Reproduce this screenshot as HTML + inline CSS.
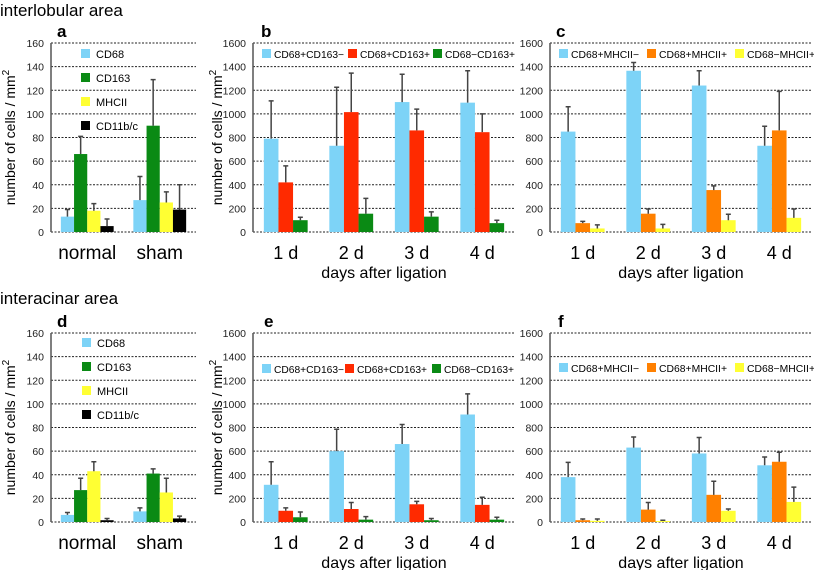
<!DOCTYPE html>
<html><head><meta charset="utf-8"><style>
body{margin:0;background:#fff;width:814px;height:570px;overflow:hidden}
svg{display:block;font-family:"Liberation Sans",Arial,sans-serif}
</style></head><body>
<svg id="chart" width="814" height="570" viewBox="0 0 814 570" xmlns="http://www.w3.org/2000/svg">
<text x="0" y="16" font-size="17">interlobular area</text>
<text x="0" y="304" font-size="17">interacinar area</text>
</svg>
<script>
const catsAD = ["normal","sham"];
const seriesAD = ["CD68","CD163","MHCII","CD11b/c"];
const colorsAD = ["#7dd3f7","#0a8a14","#ffff33","#000000"];
const aVals = [[13,27],[66,90],[18,25],[5,19]];
const aErr  = [[19,47],[81,129],[24,34],[11,40]];
const dVals = [[6,9],[27,41],[43,25],[1.5,3]];
const dErr  = [[8,12],[37,45],[51,37],[3,5]];
const ticksAD = [0,20,40,60,80,100,120,140,160];

const catsDays = ["1 d","2 d","3 d","4 d"];
const seriesBE = ["CD68+CD163\u2212","CD68+CD163+","CD68\u2212CD163+"];
const colorsBE = ["#7dd3f7","#ff2a00","#0a8a14"];
const bVals = [[790,730,1100,1095],[420,1015,860,845],[100,155,130,75]];
const bErr  = [[1110,1225,1335,1365],[560,1345,1040,1000],[125,285,170,100]];
const eVals = [[315,600,660,910],[95,110,150,145],[40,20,15,20]];
const eErr  = [[510,785,825,1085],[120,165,175,210],[85,45,30,40]];

const seriesCF = ["CD68+MHCII\u2212","CD68+MHCII+","CD68\u2212MHCII+"];
const colorsCF = ["#7dd3f7","#ff8000","#ffff33"];
const cVals = [[850,1365,1240,730],[75,155,355,860],[30,30,100,120]];
const cErr  = [[1060,1435,1365,895],[90,195,390,1190],[60,65,150,195]];
const fVals = [[380,630,580,480],[15,105,230,510],[10,8,95,170]];
const fErr  = [[505,720,715,550],[25,165,345,590],[25,15,110,295]];
const ticksDays = [0,200,400,600,800,1000,1200,1400,1600];

const svg = document.getElementById('chart');
const NS = "http://www.w3.org/2000/svg";
function mk(tag, attrs, parent){
  const e = document.createElementNS(NS, tag);
  for (const k in attrs) e.setAttribute(k, attrs[k]);
  (parent||svg).appendChild(e); return e;
}

function panel(o){
  const g = mk('g', {});
  
  
  const max = o.ticks[o.ticks.length-1];
  const y = v => o.y0 - (v/max)*(o.y0 - o.y1);
  o.ticks.forEach(t => {
    const l = mk('line', {x1:o.x0, x2:o.x1, y1:y(t), y2:y(t), stroke:'#222', 'stroke-width':1, 'stroke-dasharray':'2,1.5'}, g);
    
    
    const tx = mk('text', {x:o.x0-7, y:y(t)+4, 'font-size':10.5, 'text-anchor':'end', fill:'#222'}, g);
    tx.textContent = t;
    
    
  });
  const ax = mk('line', {x1:o.x0, x2:o.x0, y1:o.y1, y2:o.y0, stroke:'#555', 'stroke-width':1.5}, g);
  
  
  const lt = mk('text', {x:o.letterX, y:o.y1-6, 'font-size':17, 'font-weight':'bold'}, g);
  lt.textContent = o.id;
  
  
  const nc = o.cats.length, ns = o.series.length;
  const cw = (o.x1 - o.x0)/nc;
  o.cats.forEach((c, ci) => {
    const cx = o.x0 + cw*(ci+0.5);
    const gx = cx - ns*o.bw/2;
    for (let si=0; si<ns; si++){
      const v = o.vals[si][ci], e = o.err[si][ci];
      const bx = gx + si*o.bw;
      const r = mk('rect', {x:bx, y:y(v), width:o.bw, height:o.y0-y(v), fill:o.colors[si]}, g);
      
      
      const mx = bx + o.bw/2;
      const el = mk('path', {d:`M${mx},${y(v)}V${y(e)}M${mx-2.5},${y(e)}H${mx+2.5}`, stroke:'#444', 'stroke-width':1.5, fill:'none'}, g);
      
      
    }
    const cl = mk('text', {x:cx, y:o.y0+27, 'font-size':o.catFs, 'text-anchor':'middle'}, g);
    cl.textContent = c;
    
    
  });
  if (o.xTitle){
    const xt = mk('text', {x:(o.x0+o.x1)/2, y:o.y0+46, 'font-size':16, 'text-anchor':'middle'}, g);
    xt.textContent = o.xTitle;
    
    
  }
  if (o.yTitleX){
    const cy = (o.y0+o.y1)/2;
    const yt = mk('text', {x:o.yTitleX, y:cy, 'font-size':14, 'text-anchor':'middle', transform:`rotate(-90 ${o.yTitleX} ${cy})`}, g);
    yt.innerHTML = 'number of cells / mm<tspan dy="-6" font-size="10">2</tspan>';
    
    
  }
  o.series.forEach((s, si) => {
    let lx, ly;
    if (o.legendVertical){ lx = o.legX; ly = o.legY + si*24; }
    else { lx = o.legXs[si]; ly = o.legY; }
    const sq = mk('rect', {x:lx, y:ly-5, width:9, height:9, fill:o.colors[si]}, g);
    
    
    const attrs = {x:lx+(o.legendVertical?15:12), y:ly+4, 'font-size':o.legendVertical?11:10};
    if (!o.legendVertical){ attrs.textLength = o.legW; attrs.lengthAdjust = 'spacingAndGlyphs'; }
    const tx = mk('text', attrs, g);
    tx.textContent = s;
    
    
  });
}

const top0 = 232, top1 = 43, bot0 = 522, bot1 = 333;
panel({id:'a', x0:51, x1:196, y0:top0, y1:top1, ticks:ticksAD, cats:catsAD, series:seriesAD, colors:colorsAD, vals:aVals, err:aErr, bw:13.2, catFs:19, letterX:57, yTitleX:15, legendVertical:true, legX:81, legY:54});
panel({id:'b', x0:253, x1:515, y0:top0, y1:top1, ticks:ticksDays, cats:catsDays, series:seriesBE, colors:colorsBE, vals:bVals, err:bErr, bw:14.6, catFs:18, letterX:261, yTitleX:222, xTitle:'days after ligation', legXs:[262,348,433], legY:54, legW:70});
panel({id:'c', x0:550, x1:812, y0:top0, y1:top1, ticks:ticksDays, cats:catsDays, series:seriesCF, colors:colorsCF, vals:cVals, err:cErr, bw:14.6, catFs:18, letterX:556, xTitle:'days after ligation', legXs:[559,647,735], legY:54, legW:68});
panel({id:'d', x0:51, x1:196, y0:bot0, y1:bot1, ticks:ticksAD, cats:catsAD, series:seriesAD, colors:colorsAD, vals:dVals, err:dErr, bw:13.2, catFs:19, letterX:57, yTitleX:15, legendVertical:true, legX:82, legY:343});
panel({id:'e', x0:253, x1:515, y0:bot0, y1:bot1, ticks:ticksDays, cats:catsDays, series:seriesBE, colors:colorsBE, vals:eVals, err:eErr, bw:14.6, catFs:18, letterX:264, yTitleX:222, xTitle:'days after ligation', legXs:[262,345,432], legY:369, legW:70});
panel({id:'f', x0:550, x1:812, y0:bot0, y1:bot1, ticks:ticksDays, cats:catsDays, series:seriesCF, colors:colorsCF, vals:fVals, err:fErr, bw:14.6, catFs:18, letterX:558, xTitle:'days after ligation', legXs:[559,647,735], legY:368, legW:68});
</script>
</body></html>
